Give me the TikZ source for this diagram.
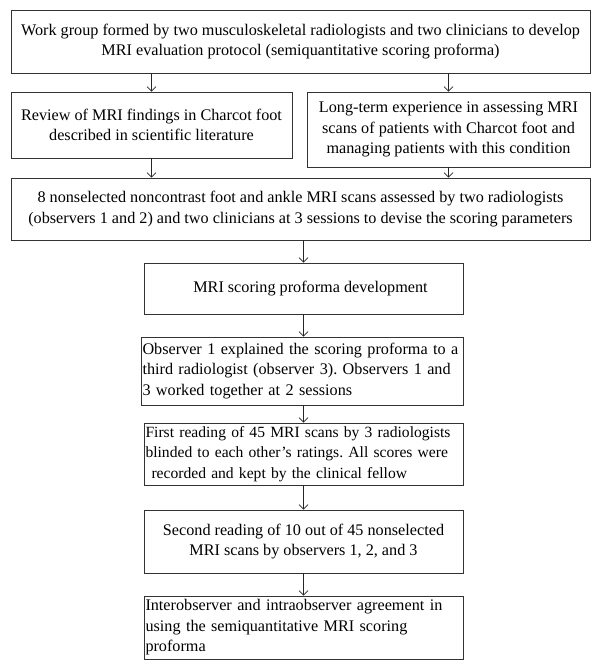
\documentclass[tikz,border=0pt]{standalone}
\usepackage{fontspec}
\setmainfont{Liberation Serif}
\frenchspacing
\usetikzlibrary{arrows.meta,calc}

\begin{document}
\begin{tikzpicture}[x=1pt,y=-1pt,
  box/.style={draw=black!80,line width=0.8pt,align=center,inner sep=2pt,
    font=\fontsize{16.2}{20.5}\selectfont},
  lbox/.style={box,align=left,inner xsep=1.5pt},
  flow/.style={-{Straight Barb[length=4.5pt,width=9pt]},line width=0.7pt,black!85}]
\useasboundingbox (0,0) rectangle (600,670);

\node[box,minimum width=579pt,minimum height=63pt] (workgroup) at (300.5,41.5)
  {Work group formed by two musculoskeletal radiologists and two clinicians to develop\\
   MRI evaluation protocol (semiquantitative scoring proforma)};

\node[box,minimum width=281pt,minimum height=66pt] (review) at (151.5,125)
  {Review of MRI findings in Charcot foot\\ described in scientific literature};
\node[box,minimum width=283pt,minimum height=75pt] (experience) at (448.5,129.5)
  {Long-term experience in assessing MRI\\ scans of patients with Charcot foot and\\
   managing patients with this condition};

\node[box,minimum width=579pt,minimum height=62pt] (pilot) at (300.5,209)
  {8 nonselected noncontrast foot and ankle MRI scans assessed by two radiologists\\
   (observers 1 and 2) and two clinicians at 3 sessions to devise the scoring parameters};

\node[box,minimum width=319pt,minimum height=51pt] (proforma) at (303.5,288.5)
  {\hspace*{14pt}MRI scoring proforma development};

\node[lbox,text width=319pt,minimum height=68pt] (explain) at (302,371)
  {Observer 1 explained the scoring proforma to a\\ third radiologist (observer 3). Observers 1 and\\
   3 worked together at 2 sessions};

\node[lbox,text width=316pt,minimum height=62pt,font=\fontsize{15.6}{20.5}\selectfont] (first) at (303.5,454)
  {First reading of 45 MRI scans by 3 radiologists\\ blinded to each other's ratings. All scores were\\
   \hspace*{6pt}recorded and kept by the clinical fellow};

\node[box,minimum width=319pt,minimum height=63pt] (second) at (303.5,541.5)
  {Second reading of 10 out of 45 nonselected\\ MRI scans by observers 1, 2, and 3};

\node[lbox,text width=316pt,minimum height=63pt] (agreement) at (303.5,627.5)
  {Interobserver and intraobserver agreement in\\ using the semiquantitative MRI scoring\\ proforma};

% arrows
\draw[flow] (workgroup.south -| review) -- (review.north);
\draw[flow] (workgroup.south -| experience) -- (experience.north);
\draw[flow] (review.south) -- (pilot.north -| review);
\draw[flow] (experience.south) -- (pilot.north -| experience);
\draw[flow] (pilot.south -| proforma) -- (proforma.north);
\draw[flow] (proforma.south) -- (explain.north -| proforma);
\draw[flow] (explain.south -| proforma) -- (first.north);
\draw[flow] (first.south) -- (second.north);
\draw[flow] (second.south) -- (agreement.north);

\end{tikzpicture}
\end{document}
